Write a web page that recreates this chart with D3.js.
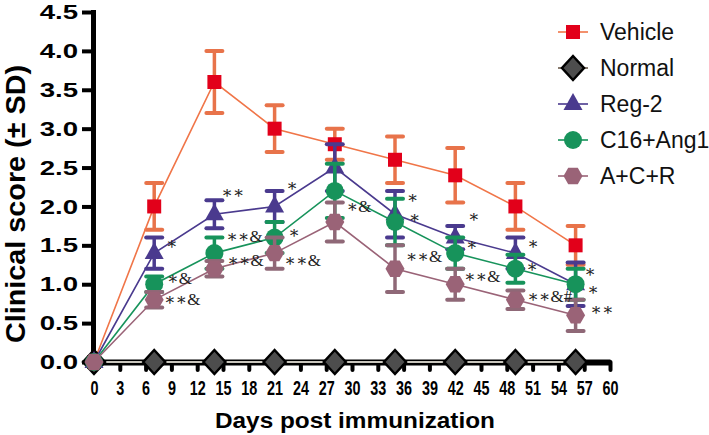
<!DOCTYPE html>
<html><head><meta charset="utf-8">
<script src="https://cdn.jsdelivr.net/npm/d3@7"></script>
<style>
html,body{margin:0;padding:0;background:#fff;}
svg{display:block;}
</style>
</head><body>
<svg id="chart" width="709" height="435"></svg>
<script>
// ---------- data ----------
const days = [0, 7, 14, 21, 28, 35, 42, 49, 56];
const vehicle   = [0, 2.0, 3.6, 3.0, 2.8, 2.6, 2.4, 2.0, 1.5];
const vehicleSD = [0, 0.3, 0.4, 0.3, 0.2, 0.3, 0.35, 0.3, 0.25];
const normal    = [0, 0, 0, 0, 0, 0, 0, 0, 0];
const normalSD  = [0, 0, 0, 0, 0, 0, 0, 0, 0];
const reg2      = [0, 1.4, 1.9, 2.0, 2.5, 1.9, 1.6, 1.4, 1.0];
const reg2SD    = [0, 0.2, 0.18, 0.2, 0.3, 0.3, 0.15, 0.2, 0.28];
const c16       = [0, 1.0, 1.4, 1.6, 2.2, 1.8, 1.4, 1.2, 1.0];
const c16SD     = [0, 0.1, 0.2, 0.2, 0.35, 0.3, 0.2, 0.18, 0.2];
const acr       = [0, 0.8, 1.2, 1.4, 1.8, 1.2, 1.0, 0.8, 0.6];
const acrSD     = [0, 0.1, 0.1, 0.2, 0.25, 0.3, 0.2, 0.12, 0.2];
const seriesNames = ["Vehicle", "Normal", "Reg-2", "C16+Ang1", "A+C+R"];
const xTicks = d3.range(0, 61, 3);
const yTicks = [0, 0.5, 1, 1.5, 2, 2.5, 3, 3.5, 4, 4.5];
const xTitle = "Days post immunization";
const yTitle = "Clinical score (\u00B1 SD)";
// significance labels: [series index, day index, label]
const sigLabels = [
  [2,1,"*"], [3,1,"*&"], [4,1,"**&"],
  [2,2,"**"], [3,2,"**&"], [4,2,"**&"],
  [2,3,"*"], [3,3,"*"], [4,3,"**&"],
  [3,4,"*&"],
  [2,5,"*"], [3,5,"*"], [4,5,"**&"],
  [2,6,"*"], [3,6,"*"], [4,6,"**&"],
  [2,7,"*"], [3,7,"*"], [4,7,"**&#"],
  [2,8,"*"], [3,8,"*"], [4,8,"**"]
];
// label offsets from the point (layout, px)
const sigOffsets = [
  [12,-10],[13,-6],[10,0],
  [7,-22],[12,-17],[13,-8],
  [12,-21],[14,-5],[10,7],
  [12,16],
  [12,-17],[14,-5],[11,-12],
  [13,-21],[11,-9],[9,-8],
  [12,-10],[11,-2],[12,-3],
  [9,-13],[12,5],[15,-6]
];

// ---------- styles ----------
const styles = [
  {line:"#F07548", err:"#E8734A", fill:"#E2001A", stroke:"none", shape:"square"},
  {line:"#c9c6bd", err:"#444", fill:"#4d4d4d", stroke:"#000", shape:"diamond"},
  {line:"#4a3a8e", err:"#4a3a8e", fill:"#4a3a8e", stroke:"none", shape:"triangle"},
  {line:"#17935b", err:"#17935b", fill:"#17935b", stroke:"none", shape:"circle"},
  {line:"#9a6377", err:"#8f6877", fill:"#9a6377", stroke:"none", shape:"hexagon"}
];
const values = [vehicle, normal, reg2, c16, acr];
const sds = [vehicleSD, normalSD, reg2SD, c16SD, acrSD];

function shapePath(shape){
  switch(shape){
    case "square": return "M-7,-7H7V7H-7Z";
    case "diamond": return "M0,-12L11,0L0,12L-11,0Z";
    case "triangle": return "M0,-11L9.5,6L-9.5,6Z";
    case "circle": return d3.symbol(d3.symbolCircle, Math.PI*9*9)();
    case "hexagon": {
      const p = d3.range(6).map(i => { const a = Math.PI/3*i; return [9.5*Math.cos(a), 9.5*Math.sin(a)]; });
      return "M" + p.map(q => q.join(",")).join("L") + "Z";
    }
  }
}

const svg = d3.select("#chart");
const x = d3.scaleLinear().domain([0, 60]).range([94, 610]);
const y = d3.scaleLinear().domain([0, 4.5]).range([362, 12]);

// ---------- axes ----------
const yAxis = svg.append("g").attr("transform", `translate(${x(0)-1},0)`)
  .call(d3.axisLeft(y).tickValues(yTicks).tickFormat(d => d.toFixed(1)).tickSize(11).tickSizeOuter(0));
yAxis.select(".domain").attr("stroke", "#000").attr("stroke-width", 5).attr("stroke-linecap", "square");
yAxis.selectAll(".tick line").attr("stroke", "#000").attr("stroke-width", 4);
yAxis.selectAll(".tick text")
  .attr("x", 0).attr("dy", "0.33em")
  .attr("transform", "translate(-15,0) scale(1.38,1)")
  .attr("fill", "#000")
  .style("font", "bold 20px 'Liberation Sans', Arial, sans-serif");

const xAxis = svg.append("g").attr("transform", `translate(0,${y(0)})`)
  .call(d3.axisBottom(x).tickValues(xTicks).tickFormat(d => d).tickSize(8).tickSizeOuter(0));
xAxis.select(".domain").attr("stroke", "#000").attr("stroke-width", 6);
xAxis.selectAll(".tick line").attr("stroke", "#000").attr("stroke-width", 4)
  .attr("stroke-linecap", "round")
  .attr("display", d => d === 0 ? "none" : null);
xAxis.selectAll(".tick text")
  .attr("x", 0).attr("y", 33).attr("dy", 0)
  .attr("transform", "scale(0.72,1)")
  .attr("fill", "#000")
  .style("font", "bold 20px 'Liberation Sans', Arial, sans-serif");

// titles
svg.append("text")
  .attr("x", 355).attr("y", 428)
  .attr("text-anchor", "middle")
  .attr("textLength", 280).attr("lengthAdjust", "spacingAndGlyphs")
  .style("font", "bold 22px 'Liberation Sans', Arial, sans-serif")
  .text(xTitle);
svg.append("text")
  .attr("transform", "translate(25,204) rotate(-90)")
  .attr("text-anchor", "middle")
  .attr("textLength", 278).attr("lengthAdjust", "spacingAndGlyphs")
  .style("font", "bold 27px 'Liberation Sans', Arial, sans-serif")
  .text(yTitle);

// ---------- series ----------
const line = d3.line().x(d => x(d[0])).y(d => y(d[1]));
[0, 1, 2, 3, 4].forEach(si => {
  const st = styles[si];
  const pts = days.map((d, i) => [d, values[si][i], sds[si][i]]);
  const g = svg.append("g");
  const eb = g.selectAll(".eb").data(pts.filter(p => p[2] > 0)).enter().append("g");
  eb.append("line")
    .attr("x1", d => x(d[0])).attr("x2", d => x(d[0]))
    .attr("y1", d => y(d[1] + d[2])).attr("y2", d => y(d[1] - d[2]))
    .attr("stroke", st.err).attr("stroke-width", 3.5);
  [1, -1].forEach(sgn => {
    eb.append("line")
      .attr("x1", d => x(d[0]) - 8).attr("x2", d => x(d[0]) + 8)
      .attr("y1", d => y(d[1] + sgn*d[2])).attr("y2", d => y(d[1] + sgn*d[2]))
      .attr("stroke", st.err).attr("stroke-width", 4).attr("stroke-linecap", "round");
  });
  g.append("path").datum(pts).attr("d", line)
    .attr("fill", "none").attr("stroke", st.line).attr("stroke-width", si === 1 ? 2 : 1.6);
  g.selectAll(".m").data(pts).enter().append("path")
    .attr("transform", d => `translate(${x(d[0])},${y(d[1])})`)
    .attr("d", shapePath(st.shape))
    .attr("fill", st.fill)
    .attr("stroke", st.stroke).attr("stroke-width", st.stroke === "none" ? 0 : 2.5);
});

// ---------- significance labels ----------
svg.append("g").selectAll("text").data(sigLabels).enter().append("text")
  .attr("x", (d, i) => x(days[d[1]]) + sigOffsets[i][0])
  .attr("y", (d, i) => y(values[d[0]][d[1]]) + sigOffsets[i][1])
  .attr("dominant-baseline", "central")
  .attr("fill", "#222")
  .style("font", "17px 'Liberation Serif', 'DejaVu Serif', serif")
  .text(d => d[2].replace(/\*/g, "\u2217"));

// ---------- legend ----------
const leg = svg.append("g");
seriesNames.forEach((name, i) => {
  const st = styles[i];
  const cy = 32 + i * 36;
  const row = leg.append("g").attr("transform", `translate(573,${cy})`);
  row.append("line").attr("x1", -15).attr("x2", 15).attr("y1", 0).attr("y2", 0)
    .attr("stroke", i === 1 ? "#6b5a4a" : st.line).attr("stroke-width", 1.6);
  row.append("path").attr("d", shapePath(st.shape))
    .attr("fill", st.fill)
    .attr("stroke", st.stroke).attr("stroke-width", st.stroke === "none" ? 0 : 2.5);
  row.append("text").attr("x", 27).attr("y", 0).attr("dy", "0.36em")
    .attr("fill", "#111")
    .style("font", "23px 'Liberation Sans', Arial, sans-serif")
    .text(name);
});
</script>
</body></html>
